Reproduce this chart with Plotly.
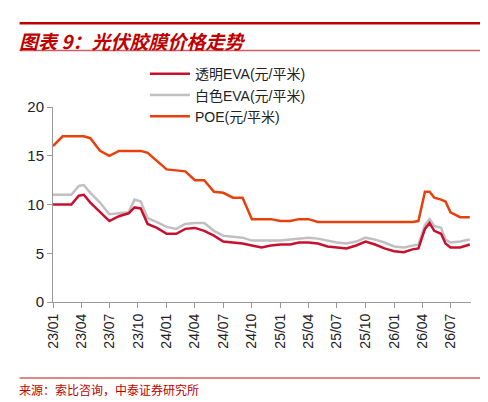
import plotly.graph_objects as go

dates = ["2023-01-01","2023-02-01","2023-03-01","2023-03-25","2023-04-10","2023-05-01","2023-06-01","2023-07-01","2023-08-01","2023-09-01","2023-09-20","2023-10-10","2023-11-01","2023-12-01",
         "2024-01-01","2024-02-01","2024-03-01","2024-04-01","2024-05-01","2024-06-01","2024-07-01","2024-08-01","2024-09-01","2024-10-01","2024-11-01","2024-12-01",
         "2025-01-01","2025-02-01","2025-03-01","2025-04-01","2025-05-01","2025-06-01","2025-07-01","2025-08-01","2025-09-01","2025-10-01","2025-11-01","2025-12-01",
         "2026-01-01","2026-02-01","2026-03-01","2026-03-20","2026-04-10","2026-04-25","2026-05-10","2026-06-01","2026-06-15","2026-07-01","2026-08-01","2026-09-01"]
eva_clear = [10,10,10,10.9,11,10.2,9.2,8.3,8.8,9.1,9.7,9.6,8.0,7.6,
             7.0,7.0,7.5,7.6,7.3,6.8,6.2,6.1,6.0,5.8,5.6,5.8,
             5.9,5.9,6.1,6.1,6.0,5.7,5.6,5.5,5.8,6.2,5.9,5.5,
             5.2,5.1,5.4,5.5,7.5,8.1,7.3,7.0,6.0,5.6,5.6,5.9]
eva_white = [11,11,11,11.9,12,11.2,10.2,9.0,9.1,9.2,10.5,10.3,8.6,8.2,
             7.7,7.5,8.0,8.1,8.1,7.3,6.8,6.7,6.6,6.3,6.3,6.3,
             6.3,6.4,6.5,6.6,6.5,6.3,6.1,6.0,6.2,6.6,6.4,6.1,
             5.7,5.6,5.8,5.9,7.9,8.5,7.8,7.6,6.4,6.1,6.2,6.4]
poe = [16,17,17,17,17,16.8,15.5,15,15.5,15.5,15.5,15.5,15.3,14.5,
       13.6,13.5,13.4,12.5,12.5,11.3,11.2,10.7,10.7,8.5,8.5,8.5,
       8.3,8.3,8.5,8.5,8.2,8.2,8.2,8.2,8.2,8.2,8.2,8.2,
       8.2,8.2,8.2,8.3,11.3,11.3,10.7,10.5,10.3,9.2,8.7,8.7]
tickvals = ["2023-01-01","2023-04-01","2023-07-01","2023-10-01","2024-01-01","2024-04-01","2024-07-01","2024-10-01",
            "2025-01-01","2025-04-01","2025-07-01","2025-10-01","2026-01-01","2026-04-01","2026-07-01"]
ticktext = ["23/01","23/04","23/07","23/10","24/01","24/04","24/07","24/10","25/01","25/04","25/07","25/10","26/01","26/04","26/07"]

fig = go.Figure()
fig.add_trace(go.Scatter(x=dates, y=eva_white, name="白色EVA(元/平米)", legendrank=2, mode="lines", line=dict(color="#C0C0C0", width=2.5)))
fig.add_trace(go.Scatter(x=dates, y=eva_clear, name="透明EVA(元/平米)", legendrank=1, mode="lines", line=dict(color="#C8102E", width=2.5)))
fig.add_trace(go.Scatter(x=dates, y=poe, name="POE(元/平米)", legendrank=3, mode="lines", line=dict(color="#E8400C", width=2.5)))

fig.update_layout(
    width=488, height=402, plot_bgcolor="white", paper_bgcolor="white",
    margin=dict(l=45, r=25, t=99, b=108),
    font=dict(family="Liberation Sans, Noto Sans CJK SC", size=13, color="#222"),
    legend=dict(x=0.22, y=1.25, xanchor="left", yanchor="top", traceorder="normal",
                font=dict(size=14), tracegroupgap=0, itemwidth=40),
    showlegend=True,
)
fig.update_xaxes(range=["2023-01-01","2026-09-05"], tickvals=tickvals, ticktext=ticktext, tickangle=-90,
                 showgrid=False, showline=True, linecolor="#999", ticks="outside", ticklen=5, tickcolor="#999",
                 tickfont=dict(size=14))
fig.update_yaxes(range=[0,20], tickvals=[0,5,10,15,20], showgrid=False, showline=True, linecolor="#999",
                 ticks="outside", ticklen=5, tickcolor="#999", zeroline=False, tickfont=dict(size=15))
fig.add_shape(type="line", xref="paper", yref="paper", x0=-0.08, x1=1.05, y0=1.43, y1=1.43, line=dict(color="#C00000", width=2.5))
fig.add_shape(type="line", xref="paper", yref="paper", x0=-0.08, x1=1.05, y0=1.29, y1=1.29, line=dict(color="#D06060", width=1.5))
fig.add_shape(type="line", xref="paper", yref="paper", x0=-0.08, x1=1.05, y0=-0.39, y1=-0.39, line=dict(color="#D06060", width=1.5))
fig.add_annotation(text="<i><b>图表 9：光伏胶膜价格走势</b></i>", xref="paper", yref="paper", x=-0.085, y=1.42,
                   xanchor="left", yanchor="top", showarrow=False, font=dict(size=19, color="#C00000", family="Noto Sans CJK SC"))
fig.add_annotation(text="来源：索比咨询，中泰证券研究所", xref="paper", yref="paper", x=-0.085, y=-0.395,
                   xanchor="left", yanchor="top", showarrow=False, font=dict(size=12, color="#C00000", family="Noto Sans CJK SC"))
fig.write_html("out.html")
